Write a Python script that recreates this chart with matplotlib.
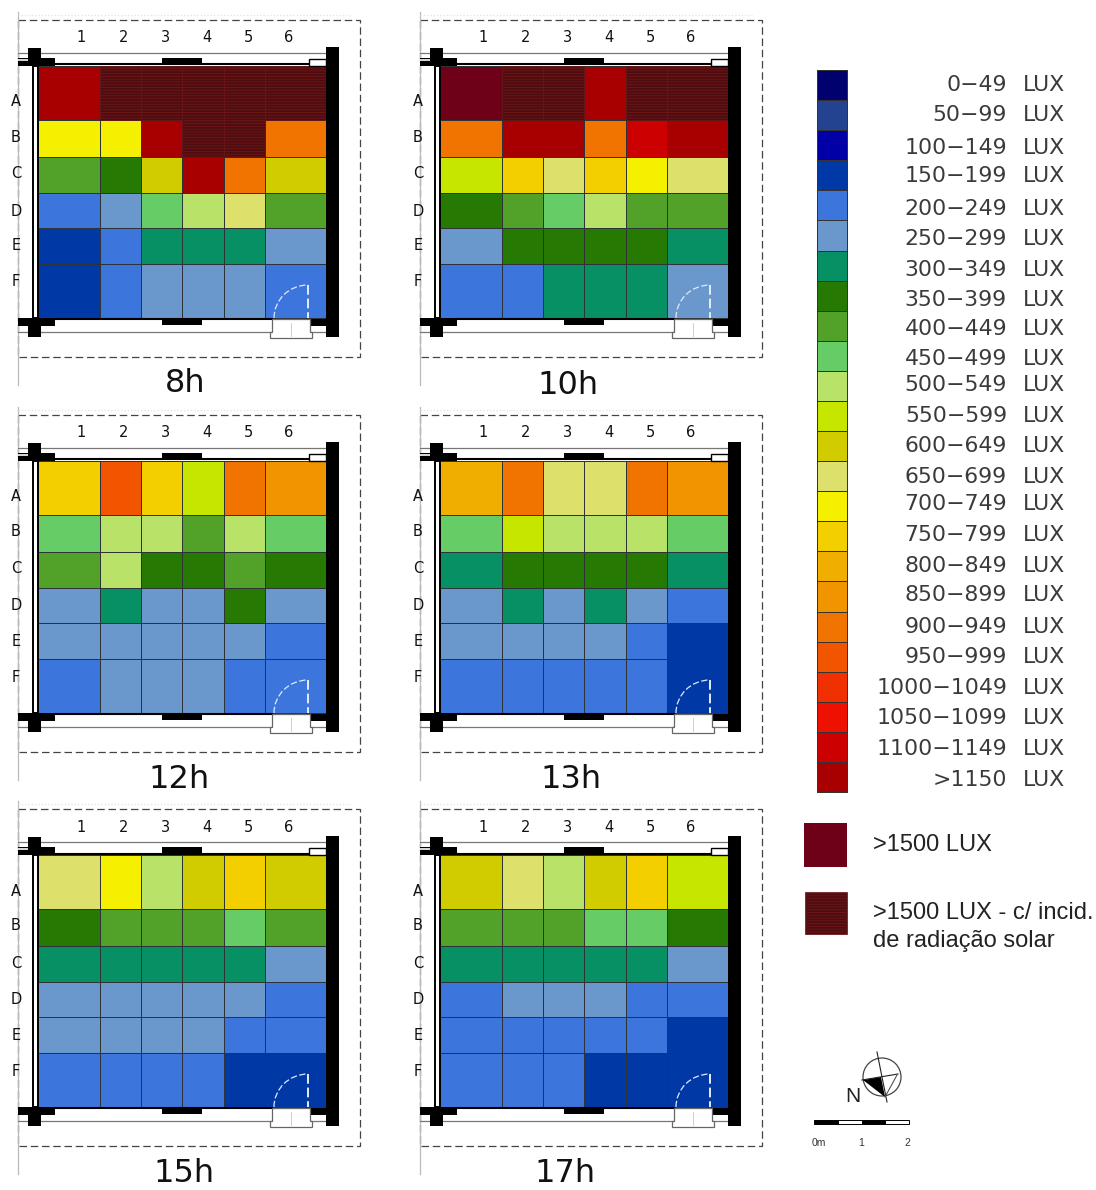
import numpy as np
import matplotlib
matplotlib.use("Agg")
import matplotlib.pyplot as plt
from matplotlib.colors import ListedColormap, BoundaryNorm
from matplotlib.patches import Rectangle, Circle, Polygon, Arc

# ---- data: each cell = index of the illuminance class in the legend ----
class_labels = ["0-49", "50-99", "100-149", "150-199", "200-249", "250-299", "300-349", "350-399",
                "400-449", "450-499", "500-549", "550-599", "600-649", "650-699", "700-749", "750-799",
                "800-849", "850-899", "900-949", "950-999", "1000-1049", "1050-1099", "1100-1149", ">1150"]
class_colors = ["#00006e", "#234391", "#0000a6", "#0039a6", "#3c75dc", "#6a98cc", "#069064", "#267a04",
                "#52a22a", "#66cc66", "#b8e268", "#c6e600", "#d0cc00", "#dde06a", "#f4f000", "#f4cf00",
                "#f0ae00", "#f09400", "#f27400", "#f25500", "#f03000", "#ee1000", "#cc0000", "#a80000",
                "#6e0018", "#4d0c10"]
OVER = 24    # >1500 LUX
SUN = 25     # >1500 LUX with direct solar radiation
rows = ["A", "B", "C", "D", "E", "F"]
cols = ["1", "2", "3", "4", "5", "6"]

h8 = [[23, 25, 25, 25, 25, 25], [14, 14, 23, 25, 25, 18], [8, 7, 12, 23, 18, 12],
      [4, 5, 9, 10, 13, 8], [3, 4, 6, 6, 6, 5], [3, 4, 5, 5, 5, 4]]
h10 = [[24, 25, 25, 23, 25, 25], [18, 23, 23, 18, 22, 23], [11, 15, 13, 15, 14, 13],
       [7, 8, 9, 10, 8, 8], [5, 7, 7, 7, 7, 6], [4, 4, 6, 6, 6, 5]]
h12 = [[15, 19, 15, 11, 18, 17], [9, 10, 10, 8, 10, 9], [8, 10, 7, 7, 8, 7],
       [5, 6, 5, 5, 7, 5], [5, 5, 5, 5, 5, 4], [4, 5, 5, 5, 4, 4]]
h13 = [[16, 18, 13, 13, 18, 17], [9, 11, 10, 10, 10, 9], [6, 7, 7, 7, 7, 6],
       [5, 6, 5, 6, 5, 4], [5, 5, 5, 5, 4, 3], [4, 4, 4, 4, 4, 3]]
h15 = [[13, 14, 10, 12, 15, 12], [7, 8, 8, 8, 9, 8], [6, 6, 6, 6, 6, 5],
       [5, 5, 5, 5, 5, 4], [5, 5, 5, 5, 4, 4], [4, 4, 4, 4, 3, 3]]
h17 = [[12, 13, 10, 12, 15, 11], [8, 8, 8, 9, 9, 7], [6, 6, 6, 6, 6, 5],
       [4, 5, 5, 5, 4, 4], [4, 4, 4, 4, 4, 3], [4, 4, 4, 3, 3, 3]]
panel_names = ["8h", "10h", "12h", "13h", "15h", "17h"]
panel_values = [h8, h10, h12, h13, h15, h17]

# ---- layout (pixels) ----
W, H = 1096, 1190
plt.rcParams["hatch.linewidth"] = 0.7
SANS = "Liberation Sans"
panel_offsets = [(0, 0), (402, 0), (0, 395), (402, 395), (0, 789), (402, 789)]
title_pos = [(185, 383), (166, 386), (179, 384), (169, 384), (184, 385), (163, 384)]
x_edges = np.array([38, 100, 141, 182, 224, 265, 326])
y_edges = np.array([66, 120, 157, 193, 228, 264, 318])
col_label_x = [81, 124, 165, 207, 248, 289]
row_label_y = [102, 137, 174, 211, 246, 282]

cmap = ListedColormap(class_colors)
norm = BoundaryNorm(np.arange(-0.5, len(class_colors) + 0.5), cmap.N)
fig = plt.figure(figsize=(W / 100, H / 100), dpi=100, facecolor="white")


def pixel_axes(x, y, w, h):
    ax = fig.add_axes([x / W, 1 - (y + h) / H, w / W, h / H])
    ax.set_xlim(0, w)
    ax.set_ylim(h, 0)
    ax.axis("off")
    ax.patch.set_alpha(0)
    return ax


def sun_hatch(ax, x0, x1, y0, y1):
    ax.add_patch(Rectangle((x0, y0), x1 - x0, y1 - y0, facecolor=class_colors[SUN],
                           edgecolor="#6c1616", hatch="------", linewidth=0.5, zorder=3.5))


def walls(ax):
    k = "black"
    g = "#777777"
    # site boundary
    ax.add_patch(Rectangle((18, 20), 342, 337, fill=False, edgecolor="#444444", lw=0.9,
                           linestyle=(0, (6, 3)), zorder=1))
    ax.plot([18, 18], [12, 385], color="#bbbbbb", lw=0.9, zorder=1)
    ax.plot([18, 350], [15, 15], color="#e2e2e2", lw=0.9, ls=":", zorder=1)
    # long thin facade lines
    ax.plot([18, 326], [53, 53], color=g, lw=0.9, zorder=3)
    ax.plot([18, 326], [332, 332], color=g, lw=0.9, zorder=3)
    # thick walls
    ax.add_patch(Rectangle((326, 47), 13, 290, color=k, lw=0, zorder=4))
    ax.add_patch(Rectangle((32.5, 66), 5, 252, facecolor="white", edgecolor=k, lw=1.4, zorder=4))
    for y0, y1 in [(48, 66), (318, 337)]:
        ax.add_patch(Rectangle((28, y0), 13, y1 - y0, color=k, lw=0, zorder=5))
    # left wall stubs: black with a thin white edge on the outer side
    ax.add_patch(Rectangle((18, 58), 37, 8, color=k, lw=0, zorder=4))
    ax.plot([18, 28], [60, 60], color="white", lw=1.2, zorder=4.5)
    ax.add_patch(Rectangle((18, 318), 37, 8, color=k, lw=0, zorder=4))
    # window lines
    ax.plot([55, 310], [64.5, 64.5], color=k, lw=1.5, zorder=3.7)
    ax.plot([55, 272], [319, 319], color=k, lw=1.5, zorder=3.7)
    # pillars in the facade
    ax.add_patch(Rectangle((162, 58), 40, 7, color=k, lw=0, zorder=4))
    ax.add_patch(Rectangle((162, 318), 40, 7, facecolor=k, edgecolor="white", lw=0, zorder=4))
    # right stubs
    ax.add_patch(Rectangle((309, 59), 17, 7, facecolor="white", edgecolor=k, lw=1.0, zorder=4))
    ax.add_patch(Rectangle((310, 319), 16, 7, color=k, lw=0, zorder=4))
    # door
    ax.add_patch(Polygon([(272, 319), (272, 332), (270, 332), (270, 338), (312, 338), (312, 332),
                          (310, 332), (310, 319)], closed=True, facecolor="white", edgecolor="#666666",
                         lw=0.9, zorder=6))
    ax.plot([291, 291], [323, 336], color="#cfcfcf", lw=0.7, zorder=7)
    ax.plot([308, 308], [285, 318], color="#e4eefc", lw=1.4, ls=(0, (5, 2)), zorder=6)
    ax.add_patch(Arc((308, 318), 68, 66, theta1=180, theta2=270, edgecolor="#dfeafa", lw=0.9,
                     ls=(0, (5, 2)), zorder=6))


for name, values, (ox, oy), (tx, ty) in zip(panel_names, panel_values, panel_offsets, title_pos):
    ax = pixel_axes(ox, oy, 395, 395)
    grid = np.array(values)
    ax.pcolormesh(x_edges, y_edges, grid, cmap=cmap, norm=norm, edgecolors="#2c3438",
                  linewidth=0.6, zorder=2)
    for xv in x_edges[1:-1]:
        ax.plot([xv, xv], [y_edges[0], y_edges[-1]], color="#2c3438", lw=0.6, zorder=3)
    for yv in y_edges[1:-1]:
        ax.plot([x_edges[0], x_edges[-1]], [yv, yv], color="#2c3438", lw=0.6, zorder=3)
    for r, c in zip(*np.nonzero(grid == SUN)):
        sun_hatch(ax, x_edges[c], x_edges[c + 1], y_edges[r], y_edges[r + 1])
    walls(ax)
    for lab, x in zip(cols, col_label_x):
        ax.text(x, 38, lab, ha="center", va="center", fontsize=10.5, color="#111111", zorder=8)
    for lab, y in zip(rows, row_label_y):
        ax.text(16, y, lab, ha="center", va="center", fontsize=10.5, color="#111111", zorder=8)
    ax.text(tx, ty, name, ha="center", va="center", fontsize=23, color="#111111", clip_on=False)

# ---- legend ----
lax = pixel_axes(780, 0, 316, H)
bar_edges = np.linspace(70, 792, len(class_labels) + 1)
lax.pcolormesh([37, 67], bar_edges, np.arange(len(class_labels)).reshape(-1, 1), cmap=cmap, norm=norm,
               edgecolors="#333333", linewidth=0.7)
label_y = [85, 115, 148, 176, 209, 239, 270, 300, 329, 359, 385, 416, 446, 477, 504, 535, 566, 595,
           627, 657, 688, 718, 749, 780]
for lab, y in zip(class_labels, label_y):
    lax.text(227, y, lab.replace("-", "\u2212"), ha="right", va="center", fontsize=15.8,
             color="#3a3a3a")
    lax.text(243, y, "LUX", ha="left", va="center", fontsize=15.8, color="#3a3a3a")

lax.add_patch(Rectangle((24, 823), 43, 44, color=class_colors[OVER], lw=0))
sun_hatch(lax, 25, 67, 892, 934)
lax.text(93, 845, ">1500 LUX", ha="left", va="center", fontsize=17, family=SANS, color="#222222")
lax.text(93, 913, ">1500 LUX - c/ incid.", ha="left", va="center", fontsize=17, family=SANS, color="#222222")
lax.text(93, 941, "de radia\u00e7\u00e3o solar", ha="left", va="center", fontsize=17, family=SANS, color="#222222")

# ---- north arrow ----
lax.add_patch(Circle((102, 1077), 19, fill=False, edgecolor="#444444", lw=0.9))
lax.add_patch(Polygon([(83, 1080), (101, 1077), (105, 1097)], closed=True, color="black", lw=0))
lax.plot([97, 107], [1052, 1102], color="#222222", lw=0.8)
lax.plot([82, 118], [1080, 1074], color="#222222", lw=0.8)
lax.plot([105, 117], [1097, 1075], color="#555555", lw=0.8)
lax.text(73, 1096, "N", ha="center", va="center", fontsize=15, family=SANS, color="#222222")

# ---- scale bar ----
scale_x = [34, 58, 82, 105, 129]
for i in range(4):
    lax.add_patch(Rectangle((scale_x[i], 1120), scale_x[i + 1] - scale_x[i], 4,
                            facecolor="black" if i % 2 == 0 else "white", edgecolor="black", lw=0.7))
for lab, x in zip(["0m", "1", "2"], [39, 81, 127]):
    lax.text(x, 1143, lab, ha="center", va="center", fontsize=7.5, family=SANS, color="#333333")

fig.savefig("out.png", dpi=100, facecolor="white")
